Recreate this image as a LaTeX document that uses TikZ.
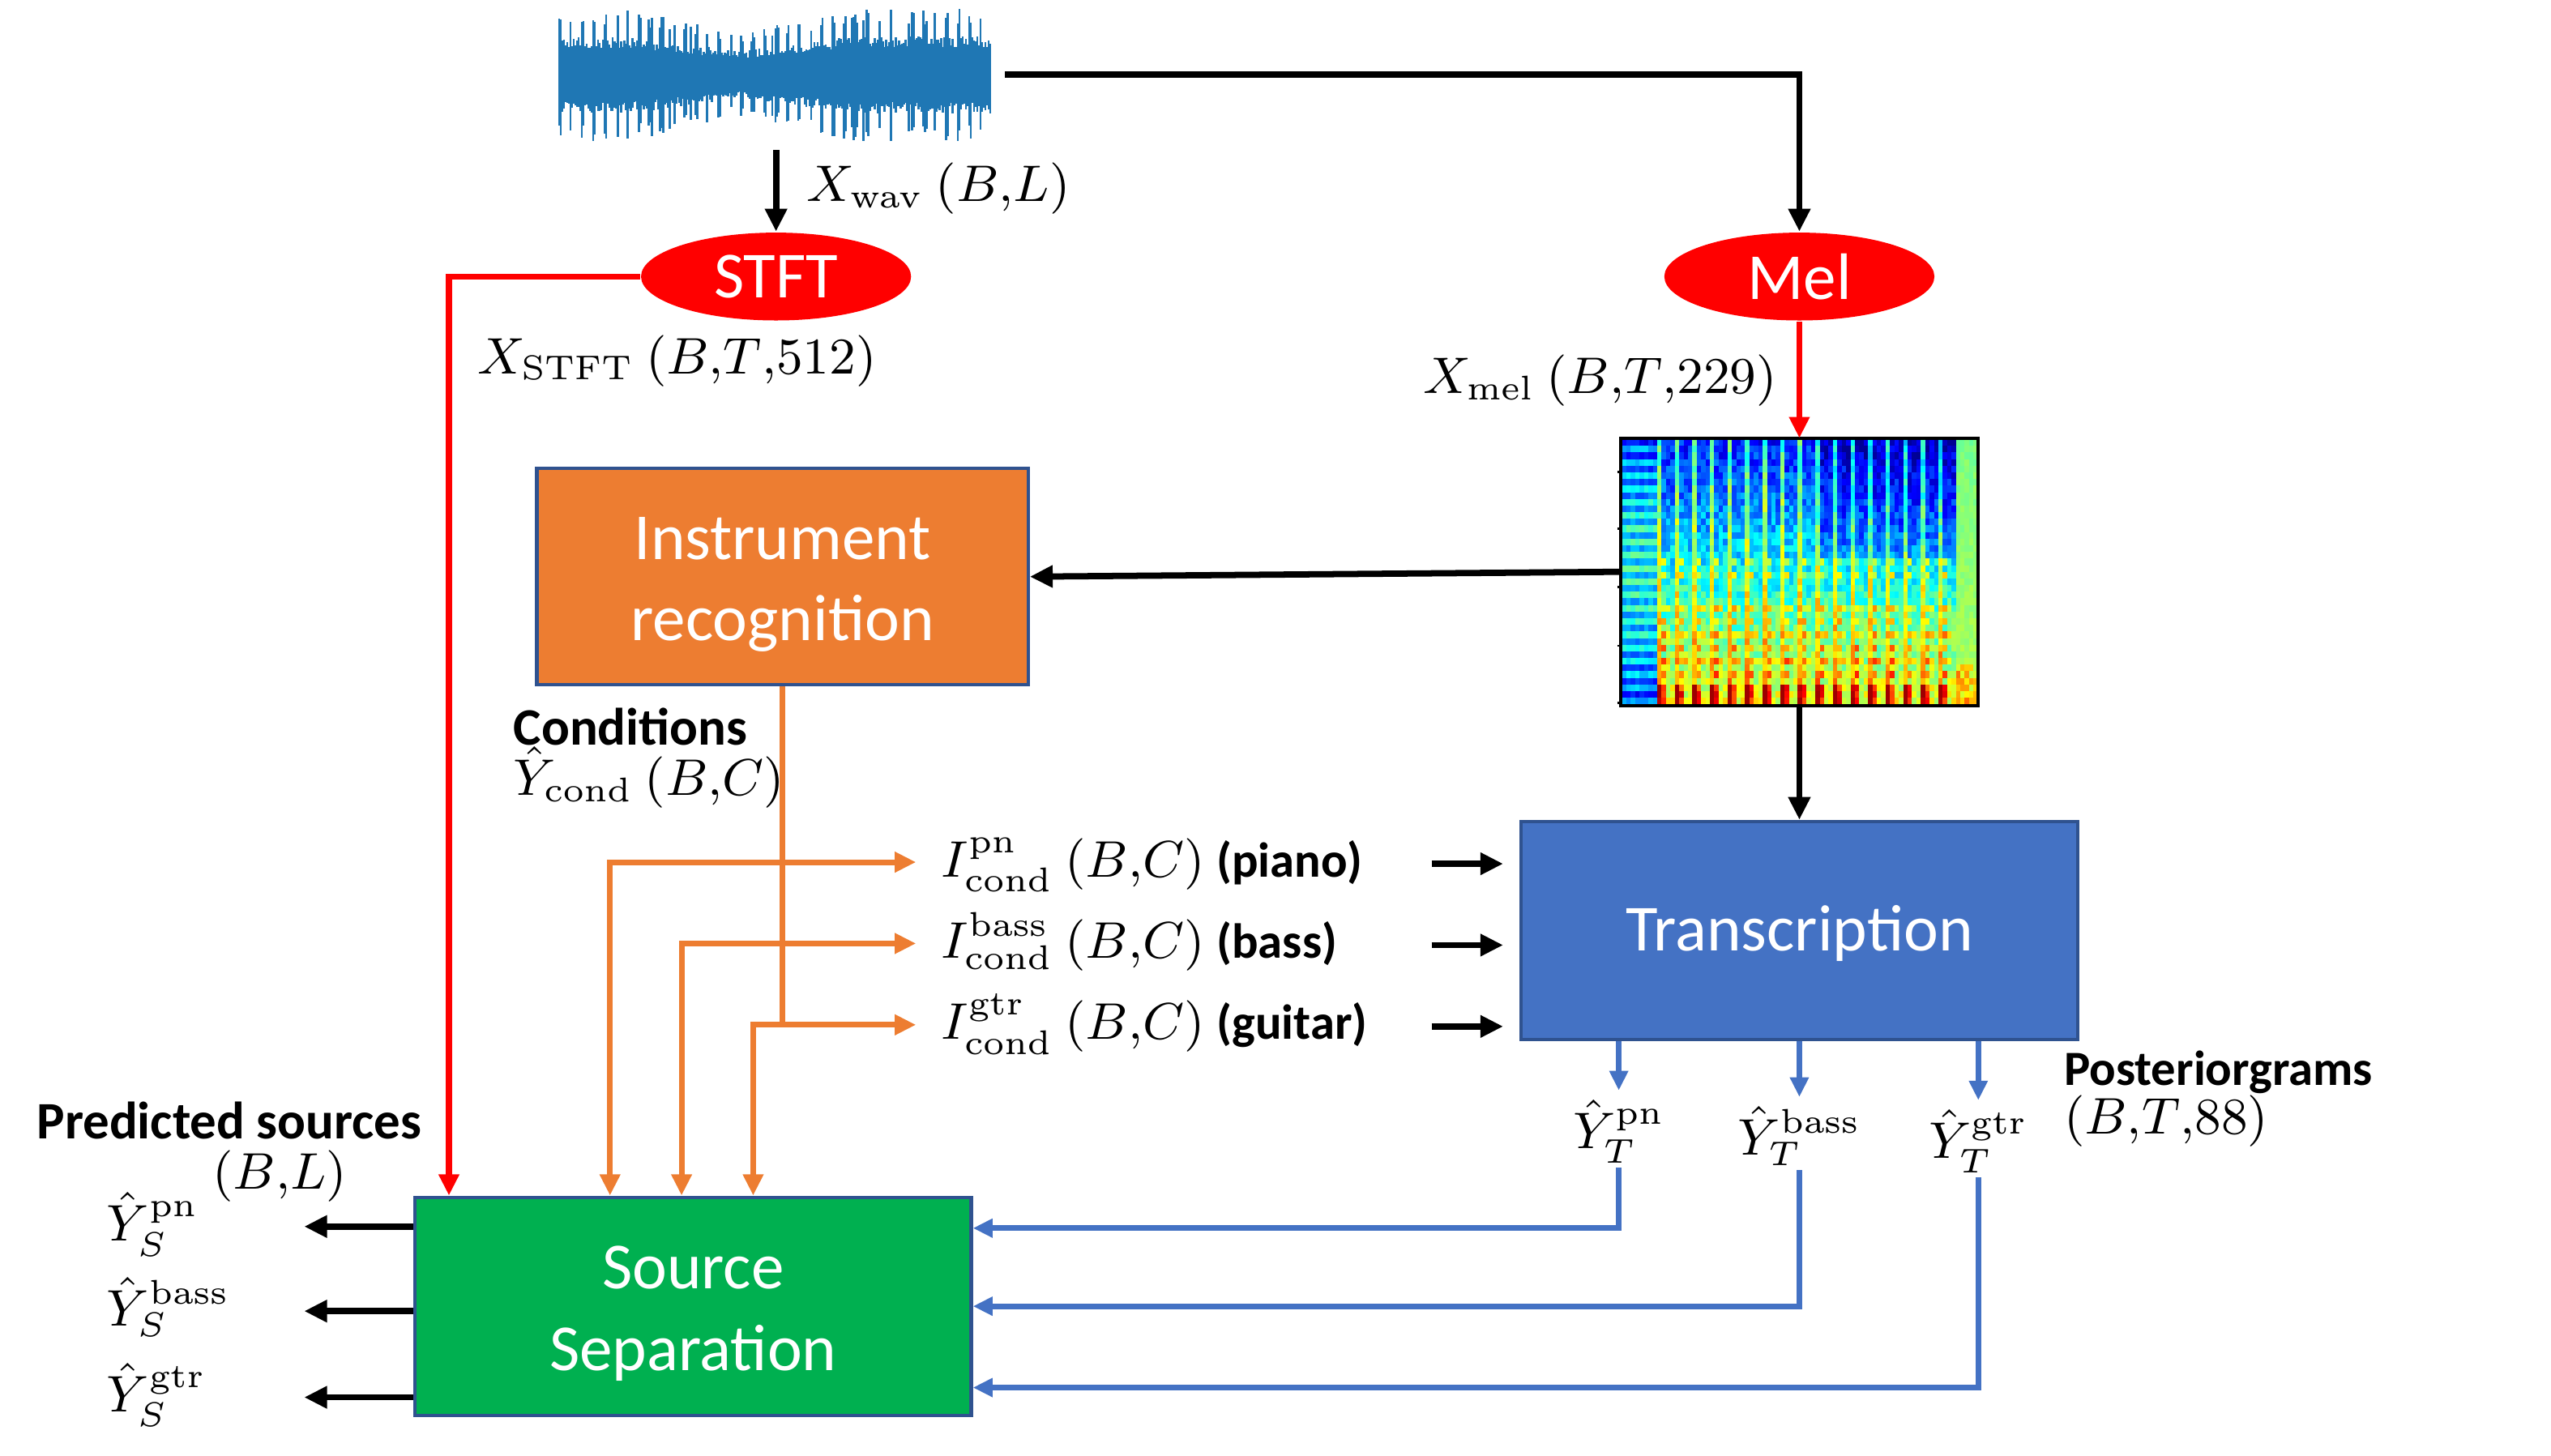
\documentclass[tikz,border=0pt]{standalone}
\usepackage[no-math]{fontspec}
\setmainfont{Carlito}
\usetikzlibrary{arrows.meta,shapes.geometric,calc}
\definecolor{wavblue}{HTML}{1F77B4}
\definecolor{oforange}{HTML}{ED7D31}
\definecolor{ofblue}{HTML}{4472C4}
\definecolor{ofgreen}{HTML}{00B050}
\definecolor{ofred}{HTML}{FF0000}
\definecolor{ofborder}{HTML}{2F528F}
\newcommand{\cm}{{,}}
\begin{document}
\begin{tikzpicture}[x=0.1mm,y=-0.1mm,
  lab/.style={inner sep=0, font=\fontsize{9}{11}\selectfont},
  blab/.style={inner sep=0, font=\fontsize{9.2}{11}\selectfont\bfseries},
  blk/.style={draw=ofborder, line width=0.6pt, inner sep=0},
  btxt/.style={text=white, align=center, font=\fontsize{11.5}{14.2}\selectfont},
  ell/.style={ellipse, fill=ofred, text=white, inner sep=0, minimum width=16.6mm, minimum height=5.4mm, font=\fontsize{11.5}{14}\selectfont},
  arr/.style={line width=1.1pt, black, -{Triangle[length=1.4mm,width=1.3mm]}},
  redarr/.style={line width=1pt, ofred, -{Triangle[length=1.3mm,width=1.2mm]}},
  orline/.style={line width=1pt, oforange},
  orarr/.style={orline, {Triangle[length=1.3mm,width=1.2mm]}-{Triangle[length=1.3mm,width=1.2mm]}},
  blarr/.style={line width=1pt, ofblue, -{Triangle[length=1.2mm,width=1.1mm]}},
]
\useasboundingbox (0,0) rectangle (1568,894.6);

% ---------- waveform ----------
\node[minimum width=26.6mm, minimum height=8.5mm, inner sep=0] (wave) at (476,46) {};
\pgfmathsetseed{11}
\foreach \i in {0,...,265}{
  \pgfmathsetmacro\t{\i/265}
  \pgfmathsetmacro\env{41-16*max(0,1-abs(\t-0.42)/0.25)}
  \pgfmathsetmacro\core{0.5*\env}
  \pgfmathsetmacro\sp{((mod(\i,7)<2)&&(rnd<0.8))||(rnd<0.05)}
  \pgfmathsetmacro\ht{\sp>0.5 ? \env*(0.75+0.25*rnd) : \core*(0.8+0.35*rnd)}
  \pgfmathsetmacro\hb{\sp>0.5 ? \env*(0.75+0.25*rnd) : \core*(0.8+0.35*rnd)}
  \fill[wavblue] (343+\i,46-\ht) rectangle ++(1.3,\ht+\hb);
}

% ---------- spectrogram ----------
\node[minimum width=21.8mm, minimum height=16.3mm, inner sep=0] (spec) at (1106,351.5) {};
\foreach \c in {0,...,80}{
  \foreach \r in {0,...,39}{
    \pgfmathsetmacro\f{(\r+0.5)/40}
    \ifnum\c<8
      \pgfmathsetmacro\v{0.08+0.16*mod(\r,2)+0.18*sin(\f*180)+0.08*rnd}
    \else\ifnum\c>75
      \pgfmathsetmacro\v{0.47+0.05*\f+0.05*rnd+(\f>0.85)*0.25*rnd}
    \else
      \pgfmathtruncatemacro\p{mod(\c-8,4)}
      \pgfmathtruncatemacro\s{(\c-8-\p)/4}
      \pgfmathsetmacro\v{0.14+0.47*\f-(\s>8)*(\f<0.45)*0.08+(\p==0)*0.3*(1-0.5*\f)+(\p==1)*(\f>0.4)*0.22*((\r==18)+(\r==20)+(\r==25)+(\r==27)+(\r==29)+(\r==31)+(\r==33)+(\r==35))+(\p==2)*(\f>0.6)*0.15*((\r==25)+(\r==29)+(\r==33))+(\r>36)*(\p<2)*0.25+0.16*rnd-0.08}
    \fi\fi
    \pgfmathsetmacro\vv{min(0.97,max(0.02,\v))}
    \pgfmathsetmacro\R{max(0,min(1,1.5-abs(4*\vv-3)))}
    \pgfmathsetmacro\G{max(0,min(1,1.5-abs(4*\vv-2)))}
    \pgfmathsetmacro\B{max(0,min(1,1.5-abs(4*\vv-1)))}
    \definecolor{spc}{rgb}{\R,\G,\B}
    \fill[spc] (997+\c*2.7,270+\r*4.075) rectangle ++(2.8,4.2);
  }
}
\draw[line width=0.6pt] (spec.north west) rectangle (spec.south east);
\foreach \yy in {290,325,361,397,432}{\draw[line width=0.4pt] (994,\yy) -- (997,\yy);}

% ---------- main nodes ----------
\node[ell] (stft) at (477,170) {STFT};
\node[ell] (mel) at (1106,170) {Mel};
\node[blk, fill=oforange, minimum width=30.2mm, minimum height=13.3mm,
  label={[btxt, yshift=-0.5mm]center:Instrument\\recognition}] (ir) at (481,354.5) {};
\node[blk, fill=ofblue, minimum width=34.2mm, minimum height=13.4mm,
  label={[btxt, yshift=-0.2mm]center:Transcription}] (tr) at (1106,572) {};
\node[blk, fill=ofgreen, minimum width=34.2mm, minimum height=13.4mm,
  label={[btxt, yshift=-0.45mm]center:Source\\Separation}] (ss) at (426,803) {};

% ---------- labels ----------
\node[lab, anchor=base west] (lwav) at (495,124) {$X_{\mathrm{wav}}\ (B\cm L)$};
\node[lab, anchor=base west] (lstft) at (293,230) {$X_{\mathrm{STFT}}\ (B\cm T\cm 512)$};
\node[lab, anchor=base east] (lmel) at (1093,242) {$X_{\mathrm{mel}}\ (B\cm T\cm 229)$};
\node[blab, anchor=base west] (lcondt) at (315,458) {Conditions};
\node[lab, anchor=base west] (lcond) at (315,489) {$\hat{Y}_{\mathrm{cond}}\ (B\cm C)$};
\node[lab, anchor=base west] (lpn) at (578,539) {$I_{\mathrm{cond}}^{\mathrm{pn}}\ (B\cm C)$ {\fontsize{8.6}{10}\selectfont\bfseries(piano)}};
\node[lab, anchor=base west] (lbass) at (578,589) {$I_{\mathrm{cond}}^{\mathrm{bass}}\ (B\cm C)$ {\fontsize{8.6}{10}\selectfont\bfseries(bass)}};
\node[lab, anchor=base west] (lgtr) at (578,639) {$I_{\mathrm{cond}}^{\mathrm{gtr}}\ (B\cm C)$ {\fontsize{8.6}{10}\selectfont\bfseries(guitar)}};
\node[blab, anchor=base west, font=\fontsize{8.6}{10}\selectfont\bfseries] (lpost) at (1268,667) {Posteriorgrams};
\node[lab, anchor=base west] (lpostd) at (1268,697) {$(B\cm T\cm 88)$};
\node[lab, anchor=base] (ytpn) at (995,706) {$\hat{Y}_T^{\mathrm{pn}}$};
\node[lab, anchor=base] (ytbass) at (1106,710) {$\hat{Y}_T^{\mathrm{bass}}$};
\node[lab, anchor=base] (ytgtr) at (1216,712) {$\hat{Y}_T^{\mathrm{gtr}}$};
\node[blab, anchor=base west] (lpred) at (22,700) {Predicted sources};
\node[lab, anchor=base west] (lpredd) at (130,731) {$(B\cm L)$};
\node[lab, anchor=base west] (yspn) at (65,763) {$\hat{Y}_S^{\mathrm{pn}}$};
\node[lab, anchor=base west] (ysbass) at (65,815) {$\hat{Y}_S^{\mathrm{bass}}$};
\node[lab, anchor=base west] (ysgtr) at (65,868) {$\hat{Y}_S^{\mathrm{gtr}}$};

% ---------- coordinates ----------
\coordinate (tpn) at (563,530);
\coordinate (tbass) at (563,580);
\coordinate (tgtr) at (563,630);
\coordinate (ipn) at (880,531);
\coordinate (ibass) at (880,581);
\coordinate (igtr) at (880,631);
\coordinate (opn) at (187,754);
\coordinate (obass) at (187,806);
\coordinate (ogtr) at (187,859);

% ---------- connectors ----------
\draw[arr] ([yshift=-0.3mm]wave.south -| stft.north) -- (stft.north);
\draw[arr] ([xshift=0.8mm]wave.east) -| (mel.north);
\draw[redarr] (stft.west) -| ($(ss.north west)+(22,0)$);
\draw[redarr] (mel.south) -- (spec.north);
\draw[arr] (spec.west) -- (ir.east);
\draw[arr] (spec.south) -- (tr.north);

\draw[orline] (ir.south) -- (ir.south |- tgtr);
\draw[orarr] (tpn) -| ($(ss.north west)+(121,0)$);
\draw[orarr] (tbass) -| ($(ss.north west)+(165,0)$);
\draw[orarr] (tgtr) -| ($(ss.north west)+(209,0)$);

\draw[arr] (ipn) -- ($(ipn -| tr.west)+(-10,0)$);
\draw[arr] (ibass) -- ($(ibass -| tr.west)+(-10,0)$);
\draw[arr] (igtr) -- ($(igtr -| tr.west)+(-10,0)$);

\draw[blarr] (tr.south -| ytpn.north) -- ([yshift=0.5mm]ytpn.north);
\draw[blarr] (tr.south -| ytbass.north) -- ([yshift=0.5mm]ytbass.north);
\draw[blarr] (tr.south -| ytgtr.north) -- ([yshift=0.5mm]ytgtr.north);
\draw[blarr] ([yshift=-0.2mm]ytpn.south) |- ($(ss.east)+(0,-48)$);
\draw[blarr] ([yshift=-0.2mm]ytbass.south) |- (ss.east);
\draw[blarr] ([yshift=-0.2mm]ytgtr.south) |- ($(ss.east)+(0,50)$);

\draw[arr] (ss.west |- opn) -- (opn);
\draw[arr] (ss.west |- obass) -- (obass);
\draw[arr] (ss.west |- ogtr) -- (ogtr);
\end{tikzpicture}
\end{document}
